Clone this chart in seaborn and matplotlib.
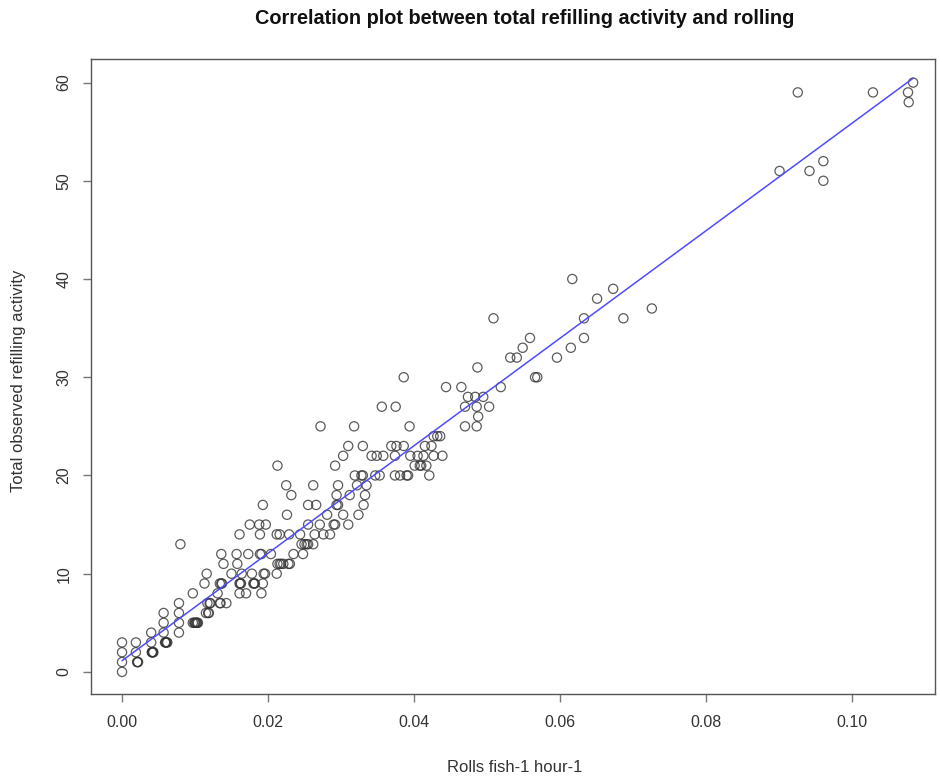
import numpy as np
import pandas as pd
import matplotlib
matplotlib.use("Agg")
import matplotlib.pyplot as plt
import seaborn as sns

# rolls per fish per hour, grouped by observed refilling count
# (repeated pairs are the overplotted, darker rings in the original)
rolls_low = [0.0, 0.0, 0.0, 0.0,
             0.0019, 0.0019, 0.0021, 0.0022, 0.0021,
             0.0040, 0.0040, 0.0041, 0.0042, 0.0043, 0.0041, 0.0042,
             0.0057, 0.0057, 0.0057, 0.0059, 0.0060, 0.0062, 0.0061, 0.0060,
             0.0078, 0.0078, 0.0078, 0.0078, 0.0080,
             0.0097, 0.0097, 0.0100, 0.0102, 0.0104, 0.0099, 0.0101, 0.0103,
             0.0113, 0.0117, 0.0120, 0.0115, 0.0118, 0.0119, 0.0121,
             0.0134, 0.0136, 0.0131, 0.0134, 0.0143, 0.0135, 0.0137,
             0.0161, 0.0163, 0.0161, 0.0170, 0.0180, 0.0182, 0.0162, 0.0181,
             0.0191, 0.0193]
refill_low = [0, 1, 2, 3,
              2, 3, 1, 1, 1,
              3, 4, 2, 2, 2, 2, 2,
              4, 5, 6, 3, 3, 3, 3, 3,
              4, 5, 6, 7, 13,
              8, 5, 5, 5, 5, 5, 5, 5,
              9, 7, 7, 6, 6, 6, 7,
              9, 9, 8, 7, 7, 7, 9,
              9, 9, 8, 8, 9, 9, 9, 9,
              8, 9]

rolls_mid = [0.0116, 0.0150, 0.0164, 0.0178, 0.0194, 0.0212, 0.0196,
             0.0139, 0.0158, 0.0213, 0.0218, 0.0221, 0.0230, 0.0216, 0.0228,
             0.0136, 0.0157, 0.0173, 0.0189, 0.0204, 0.0235, 0.0248, 0.0191,
             0.0246, 0.0250, 0.0253, 0.0262, 0.0255,
             0.0161, 0.0189, 0.0212, 0.0216, 0.0229, 0.0244, 0.0264, 0.0276, 0.0285,
             0.0175, 0.0188, 0.0197, 0.0255, 0.0271, 0.0290, 0.0292, 0.0310,
             0.0226, 0.0281, 0.0303, 0.0324,
             0.0193, 0.0255, 0.0266, 0.0294, 0.0296, 0.0331,
             0.0232, 0.0294, 0.0312, 0.0333,
             0.0225, 0.0262, 0.0296, 0.0322, 0.0335,
             0.0213, 0.0272]
refill_mid = [10, 10, 10, 10, 10, 10, 10,
              11, 11, 11, 11, 11, 11, 11, 11,
              12, 12, 12, 12, 12, 12, 12, 12,
              13, 13, 13, 13, 13,
              14, 14, 14, 14, 14, 14, 14, 14, 14,
              15, 15, 15, 15, 15, 15, 15, 15,
              16, 16, 16, 16,
              17, 17, 17, 17, 17, 17,
              18, 18, 18, 18,
              19, 19, 19, 19, 19,
              21, 25]

rolls_high = [0.0319, 0.0328, 0.0330, 0.0347, 0.0353, 0.0374, 0.0381, 0.0390, 0.0392, 0.0421,
              0.0292, 0.0401, 0.0408, 0.0410, 0.0417,
              0.0303, 0.0342, 0.0349, 0.0358, 0.0374, 0.0395, 0.0405, 0.0413, 0.0427, 0.0439,
              0.0310, 0.0330, 0.0369, 0.0376, 0.0386, 0.0415, 0.0424,
              0.0427, 0.0432, 0.0436,
              0.0318, 0.0394, 0.0470, 0.0486,
              0.0488,
              0.0356, 0.0375, 0.0470, 0.0486, 0.0503,
              0.0474, 0.0484, 0.0495,
              0.0444, 0.0465, 0.0519,
              0.0386, 0.0566, 0.0569,
              0.0487,
              0.0532, 0.0541, 0.0596,
              0.0549, 0.0615,
              0.0559, 0.0633,
              0.0509, 0.0633, 0.0687,
              0.0726, 0.0651, 0.0673, 0.0617]
refill_high = [20, 20, 20, 20, 20, 20, 20, 20, 20, 20,
               21, 21, 21, 21, 21,
               22, 22, 22, 22, 22, 22, 22, 22, 22, 22,
               23, 23, 23, 23, 23, 23, 23,
               24, 24, 24,
               25, 25, 25, 25,
               26,
               27, 27, 27, 27, 27,
               28, 28, 28,
               29, 29, 29,
               30, 30, 30,
               31,
               32, 32, 32,
               33, 33,
               34, 34,
               36, 36, 36,
               37, 38, 39, 40]

rolls_top = [0.0901, 0.0942, 0.0961, 0.0961, 0.0926, 0.1029, 0.1077, 0.1078, 0.1084]
refill_top = [51, 51, 52, 50, 59, 59, 59, 58, 60]

df = pd.DataFrame({
    "rolls": rolls_low + rolls_mid + rolls_high + rolls_top,
    "refill": refill_low + refill_mid + refill_high + refill_top,
})

sns.set_theme(style="white")
plt.rcParams["font.family"] = ["Liberation Sans", "DejaVu Sans"]

fig = plt.figure(figsize=(9.4, 7.81), dpi=100)
ax = fig.add_axes([91 / 940, 1 - 694 / 781, (935 - 91) / 940, (694 - 59) / 781])

sns.regplot(data=df, x="rolls", y="refill", ci=None, ax=ax,
            scatter_kws=dict(s=44, facecolors="none", edgecolors="#333333",
                             linewidths=0.9, alpha=0.8),
            line_kws=dict(color="#4d4dff", linewidth=1.1))

ax.set_xlim(-0.00425, 0.1114)
ax.set_ylim(-2.25, 62.4)
ax.set_xticks([0.0, 0.02, 0.04, 0.06, 0.08, 0.10])
ax.set_xticklabels(["0.00", "0.02", "0.04", "0.06", "0.08", "0.10"])
ax.set_yticks([0, 10, 20, 30, 40, 50, 60])
ax.set_yticklabels(["0", "10", "20", "30", "40", "50", "60"], rotation=90, va="center")

for s in ax.spines.values():
    s.set_visible(True)
    s.set_color("#555555")
    s.set_linewidth(1.0)
ax.tick_params(axis="both", direction="out", length=6, width=1.0, color="#777777",
               labelsize=11.5, labelcolor="#333333", bottom=True, left=True)
ax.tick_params(axis="x", pad=9)
ax.tick_params(axis="y", pad=8)

ax.set_xlabel("")
ax.set_ylabel("")
fig.text(515 / 940, 1 - 767 / 781, "Rolls fish-1 hour-1", ha="center", va="center",
         fontsize=12, color="#333333")
fig.text(19 / 940, 1 - 381 / 781, "Total observed refilling activity", ha="center", va="center",
         rotation=90, fontsize=12, color="#333333")
fig.text(525 / 940, 1 - 19 / 781, "Correlation plot between total refilling activity and rolling",
         ha="center", va="center", fontsize=14.3, fontweight="bold", color="#111111")

fig.savefig("out.png", dpi=100)
